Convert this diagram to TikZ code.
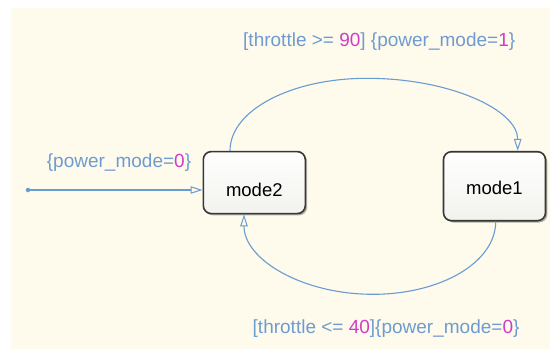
\documentclass[tikz,border=0pt]{standalone}
\usepackage{fontspec}
\setmainfont{Liberation Sans}
\usetikzlibrary{arrows.meta,shadows}
\definecolor{canvas}{RGB}{254,251,236}
\definecolor{wireblue}{RGB}{106,155,210}
\definecolor{lbl}{RGB}{110,155,208}
\definecolor{num}{RGB}{208,60,200}
\definecolor{frame}{RGB}{55,55,55}
\definecolor{shade}{RGB}{242,242,237}

\begin{document}
\begin{tikzpicture}[x=1pt,y=1pt,
  modebox/.style={draw=frame, line width=1.6pt, rounded corners=8pt,
    top color=white, bottom color=shade, minimum width=102pt,
    text depth=0pt, inner sep=0pt, font=\fontsize{18.5}{20}\selectfont,
    drop shadow={shadow xshift=1.8pt, shadow yshift=-1.8pt, opacity=0.3, fill=black}},
  wire/.style={draw=wireblue, line width=1.1pt},
  tip/.style={-{Triangle[open, length=12pt, width=7.5pt, line width=1pt]}},
  guard/.style={text=lbl, font=\fontsize{19}{21}\selectfont, anchor=base west, inner sep=0pt},
]
\useasboundingbox (0,0) rectangle (550,349);
% chart canvas
\fill[white] (0,0) rectangle (550,349);
\fill[canvas] (10.5,0) rectangle (550,340.7);

% states
\node[modebox, minimum height=62pt, text height=26.8pt] (mode2) at (254.3,166.4) {mode2};
\node[modebox, minimum height=69pt, text height=17.6pt] (mode1) at (494.5,162.8) {mode1};

% default transition
\node[circle, fill=wireblue, inner sep=0pt, minimum size=4.5pt] (init) at (28,159) {};
\draw[wire, tip] (init) -- (init -| mode2.west);
\node[guard] (g0) at (46.7,182) {\{power\_mode=\textcolor{num}{0}\}};

% mode2 -> mode1
\coordinate (topmid) at (367,270.7);
\draw[wire, tip] ([xshift=-24.3pt]mode2.north)
  .. controls +(0,40.7) and (291.4,270.7) .. (topmid)
  .. controls (450.4,270.7) and +(0,40.7) .. ([xshift=23.2pt]mode1.north);
\node[guard] (g1) at (243,302.3) {[throttle >= \textcolor{num}{90}] \{power\_mode=\textcolor{num}{1}\}};

% mode1 -> mode2
\coordinate (botmid) at (373,54.7);
\draw[wire, tip] ([xshift=1.2pt]mode1.south)
  .. controls +(0,-41) and (440.7,54.7) .. (botmid)
  .. controls (301.8,54.7) and +(0,-44.9) .. ([xshift=-10.3pt]mode2.south);
\node[guard] (g2) at (252.5,15.7) {[throttle <= \textcolor{num}{40}]\{power\_mode=\textcolor{num}{0}\}};
\end{tikzpicture}
\end{document}
